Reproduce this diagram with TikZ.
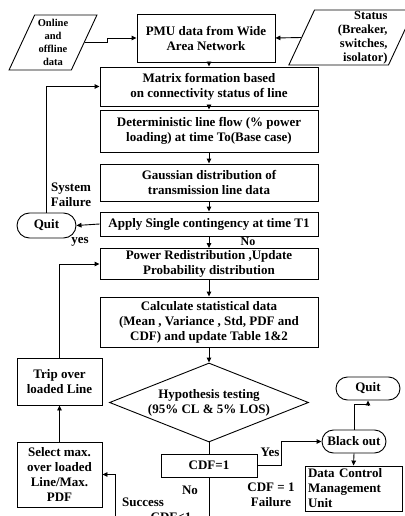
\documentclass[tikz,border=0pt]{standalone}
\usepackage{fontspec}
\setmainfont{Liberation Serif}
\usetikzlibrary{shapes.geometric,shapes.misc,arrows.meta}
\begin{document}
\begin{tikzpicture}[x=1pt,y=-1pt,line width=0.9pt,
  every node/.style={font=\bfseries\fontsize{13}{15}\selectfont,align=center,inner sep=1pt},
  box/.style={draw,minimum width=218pt},
  term/.style={draw,rounded rectangle,minimum width=66pt,minimum height=23pt},
  io/.style={draw,trapezium,trapezium left angle=65,trapezium right angle=115,trapezium stretches},
  arr/.style={-{Triangle[length=5pt,width=4.5pt]}}]
\useasboundingbox (0,0) rectangle (404,516);
\node[io,minimum width=88pt,minimum height=55pt,font=\bfseries\fontsize{10.5}{13}\selectfont] (ON) at (53,42.5){Online\\and\\offline\\data};
\node[io,minimum width=107pt,minimum height=51pt,text width=72pt,align=right,font=\bfseries\fontsize{12.5}{14}\selectfont] (ST) at (351.5,37.5){Status\\(Breaker,\\switches,\\isolator)};
\node[draw,minimum width=138pt,minimum height=48pt] (PMU) at (206,38){PMU data from Wide\\Area Network};
\node[box,minimum height=39pt] (MF) at (209,86.5){Matrix formation based\\on connectivity status of line};
\node[box,minimum height=42pt] (DLF) at (209,131){Deterministic line flow (\% power\\loading) at time To(Base case)};
\node[box,minimum height=37pt] (GD) at (209,182.5){Gaussian distribution of\\transmission line data};
\node[box,minimum height=24pt] (ASC) at (209,224){Apply Single contingency at time T1};
\node[box,minimum height=31pt] (PR) at (209,264){Power Redistribution ,Update\\Probability distribution};
\node[box,minimum height=50pt] (CS) at (209,322){Calculate statistical data\\(Mean , Variance , Std, PDF and\\CDF) and update Table 1\&2};
\node[draw,diamond,aspect=2.5,minimum width=199pt,minimum height=79pt,inner sep=0pt] (HT) at (209,402.5){Hypothesis testing\\(95\% CL \& 5\% LOS)};
\node[draw,minimum width=96pt,minimum height=23pt] (CDF) at (209,465.5){CDF=1};
\node[draw,minimum width=85pt,minimum height=47pt] (TR) at (59.5,381.5){Trip over\\loaded Line};
\node[draw,minimum width=85pt,minimum height=65pt] (SM) at (59.5,474.5){Select max.\\over loaded\\Line/Max.\\PDF};
\node[term,minimum width=61pt,minimum height=25pt] (QL) at (46.5,225.5){Quit};
\node[term] (QR) at (368,388.5){Quit};
\node[term] (BO) at (354,441.5){Black out};
\node[draw,minimum width=97pt,minimum height=45pt,text width=91pt,align=left] (DC) at (353.5,488.5){Data Control\\Management\\Unit};
\coordinate (S) at (115,530);
\coordinate (E) at (209,530);
\draw[arr] (ON.east) -- ++(23,0) |- (PMU.west);
\draw[arr] (ST.west) -- (PMU.east);
\draw[arr] (PMU.south -| MF) -- (MF.north);
\foreach \a/\b in {MF/DLF,DLF/GD,GD/ASC,ASC/PR,PR/CS,CS/HT}
  \draw[arr] (\a.south) -- (\b.north);
\draw (HT.south) -- (CDF.north);
\draw[arr] (ASC.west) -- (QL.east);
\draw[arr] (QL.north) |- (MF.west);
\draw[arr] (TR.north) |- (PR.west);
\draw[arr] (SM.north) -- (TR.south);
\draw[arr] (S) |- (SM.east);
\draw (CDF.south) -- (E);
\draw[arr] (CDF.east) -- ++(24,0) |- (BO.west);
\draw[arr] (BO.north) -- ++(0,-25) -| (QR.south);
\draw[arr] (BO.south) -- (DC.north);
\node (SF) at (71,195){System\\Failure};
\node (Y1) at (80,242){yes};
\node[font=\bfseries\fontsize{12}{14}\selectfont] (N1) at (248,241.5){No};
\node (Y2) at (270,452){Yes};
\node (N2) at (190,490){No};
\node (SC) at (143,502){Success};
\node (LT) at (171,517){CDF<1};
\node (FL) at (271,495){CDF = 1\\Failure};
\end{tikzpicture}
\end{document}
